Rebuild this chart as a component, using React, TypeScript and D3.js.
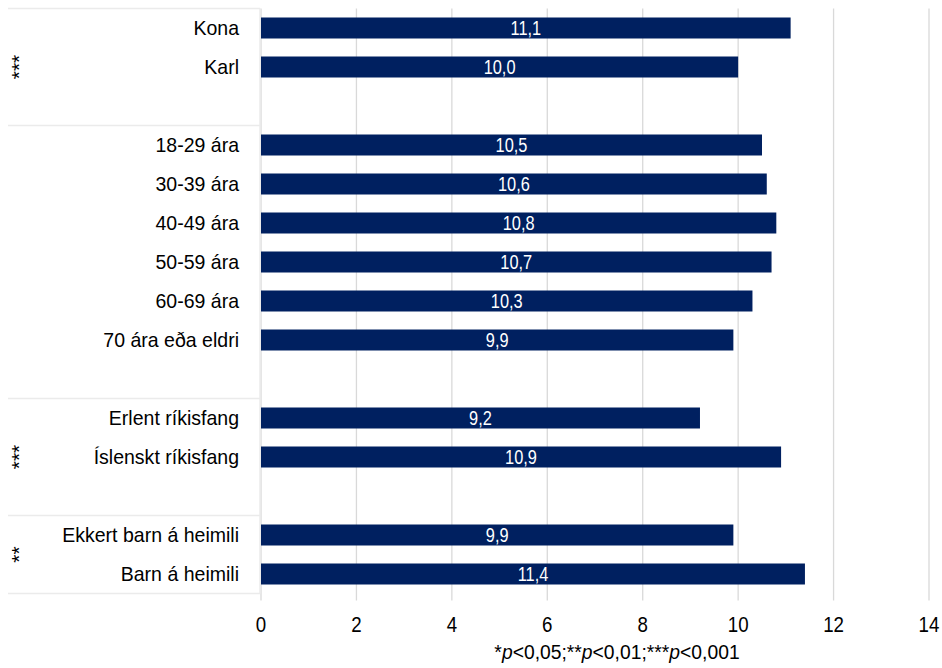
import React from "react";
import * as d3 from "d3";

const categories = [
  "Kona", "Karl", "",
  "18-29 ára", "30-39 ára", "40-49 ára", "50-59 ára", "60-69 ára", "70 ára eða eldri", "",
  "Erlent ríkisfang", "Íslenskt ríkisfang", "",
  "Ekkert barn á heimili", "Barn á heimili",
];
const values: (number | null)[] = [
  11.1, 10.0, null,
  10.5, 10.6, 10.8, 10.7, 10.3, 9.9, null,
  9.2, 10.9, null,
  9.9, 11.4,
];
const xTicks = [0, 2, 4, 6, 8, 10, 12, 14];
// groups: [first row index, last row index (inclusive), significance]
const groups: [number, number, string][] = [
  [0, 2, "***"],
  [3, 9, ""],
  [10, 12, "***"],
  [13, 14, "**"],
];

const W = 942, H = 668;
const left = 261, right = 929, top = 8.5, bottom = 593.5;
const FONT = "'Liberation Sans', Arial, sans-serif";

function T({ x, y, sx, size, anchor, fill = "#000", children }: any) {
  return (
    <text transform={`translate(${x},${y}) scale(${sx},1)`} textAnchor={anchor} fontFamily={FONT}
      fontSize={size} fill={fill}>{children}</text>
  );
}

export default function App() {
  const x = d3.scaleLinear().domain([0, 14]).range([left, right]);
  const y = d3.scaleBand<number>().domain(d3.range(categories.length)).range([top, bottom]);
  const bh = 21;
  const fmt = (v: number) => v.toFixed(1).replace(".", ",");
  const grid = "#d9d9d9";
  const sep = "#ebebeb";
  const cy = (i: number) => y(i)! + y.bandwidth() / 2;
  return (
    <svg width={W} height={H} style={{ position: "absolute", left: 0, top: 0, background: "#fff" }}>
      {xTicks.map((t) => (
        <line key={t} x1={x(t)} x2={x(t)} y1={top} y2={bottom + 7} stroke={grid} strokeWidth={1.3} />
      ))}
      {groups.map(([a], i) => (
        <line key={"s" + i} x1={8} x2={left - 1} y1={y(a)!} y2={y(a)!} stroke={sep} strokeWidth={1.5} />
      ))}
      <line x1={8} x2={left - 1} y1={bottom} y2={bottom} stroke={sep} strokeWidth={1.5} />
      <line x1={left - 1} x2={left - 1} y1={top} y2={bottom} stroke={sep} strokeWidth={1.5} />
      {values.map((v, i) =>
        v == null ? null : (
          <g key={i}>
            <rect x={x(0)} y={cy(i) - bh / 2} width={x(v) - x(0)} height={bh} fill="#002060" />
            <T x={(x(0) + x(v)) / 2} y={cy(i) + 7} sx={0.84} size={19.5} anchor="middle" fill="#fff">{fmt(v)}</T>
          </g>
        )
      )}
      {categories.map((c, i) =>
        c ? (
          <T key={"c" + i} x={239} y={cy(i) + 7.3} sx={0.93} size={21} anchor="end">{c}</T>
        ) : null
      )}
      {groups.map(([a, b, s], i) => {
        if (!s) return null;
        const gy = (y(a)! + y(b)! + y.bandwidth()) / 2;
        return (
          <text key={"g" + i} transform={`translate(18,${gy}) rotate(-90)`} textAnchor="middle" dy="0.36em"
            fontFamily={FONT} fontSize={21} fill="#000">{s}</text>
        );
      })}
      {xTicks.map((t) => (
        <T key={"t" + t} x={x(t)} y={632} sx={0.85} size={22} anchor="middle">{t}</T>
      ))}
      <T x={(left + right) / 2 + 22} y={659} sx={0.92} size={21} anchor="middle">
        *<tspan fontStyle="italic">p</tspan>&lt;0,05;**<tspan fontStyle="italic">p</tspan>&lt;0,01;***<tspan fontStyle="italic">p</tspan>&lt;0,001
      </T>
    </svg>
  );
}
